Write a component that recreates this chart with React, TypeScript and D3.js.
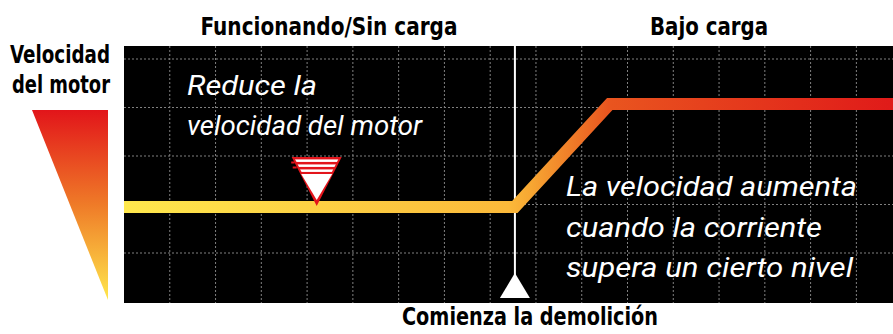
import * as d3 from "d3";

// grid positions (chart units)
const gridX = [1, 2, 3, 4, 5, 6, 7, 8, 9, 10, 11, 12, 13, 14, 15, 16];
const gridY = [0, 1, 2, 3, 4];

// motor speed curve
const speedX = [0, 8.54, 10.61, 16.8];
const speedY = [0.95, 0.95, 3.07, 3.07];

// events
const demolitionX = 8.54;
const reduceX = 4.21;

const phaseLabels = ["Funcionando/Sin carga", "Bajo carga"];
const phaseCenters = [329, 709];
const phaseWidths = [257, 118];
const reduceText = ["Reduce la", "velocidad del motor"];
const reduceWidths = [130, 235];
const increaseText = ["La velocidad aumenta", "cuando la corriente", "supera un cierto nivel"];
const increaseWidths = [291, 256, 287];

const W = 893;
const H = 334;
const FONT = "'Liberation Sans Narrow', 'DejaVu Sans Condensed', 'Roboto', sans-serif";
const ITALIC = "'Roboto', 'Liberation Sans', sans-serif";

export default function App() {
  const panel = { left: 124, right: 893, top: 46, bottom: 303 };
  const x = d3.scaleLinear().domain([0, 16.8]).range([panel.left, panel.right]);
  const y = d3.scaleLinear().domain([0, 4]).range([253, 59]);

  const pts: [number, number][] = speedX.map((v, i) => [x(v), y(speedY[i])]);
  const line = d3.line()(pts) || "";

  const mx = x(reduceX);
  const my = y(speedY[0]) - 1;
  const dx = x(demolitionX);

  return (
    <svg width={W} height={H} style={{ position: "absolute", left: 0, top: 0 }} fontFamily={FONT}>
      <defs>
        <linearGradient id="lineGrad" gradientUnits="userSpaceOnUse" x1={panel.left} x2={panel.right} y1={0} y2={0}>
          <stop offset="0" stopColor="#ffe84d" />
          <stop offset="0.5" stopColor="#fbb93a" />
          <stop offset="0.53" stopColor="#f7a632" />
          <stop offset="0.63" stopColor="#e9551f" />
          <stop offset="1" stopColor="#e01a19" />
        </linearGradient>
        <linearGradient id="triGrad" x1="0" x2="0" y1="0" y2="1">
          <stop offset="0" stopColor="#e2151a" />
          <stop offset="0.5" stopColor="#ef7b28" />
          <stop offset="1" stopColor="#ffe74c" />
        </linearGradient>
        <clipPath id="markClip">
          <path d="M-22,-47.5L22,-47.5L0,-4Z" />
        </clipPath>
      </defs>

      {/* left legend */}
      <text x={60} y={63} textAnchor="middle" fontWeight="bold" fontSize={25} textLength={100} lengthAdjust="spacingAndGlyphs">Velocidad</text>
      <text x={61} y={93} textAnchor="middle" fontWeight="bold" fontSize={25} textLength={98} lengthAdjust="spacingAndGlyphs">del motor</text>
      <path d="M32,110L108,110L108,300Z" fill="url(#triGrad)" />

      {/* phase headers */}
      {phaseLabels.map((t, i) => (
        <text key={t} x={phaseCenters[i]} y={35} textAnchor="middle" fontWeight="bold" fontSize={25}
          textLength={phaseWidths[i]} lengthAdjust="spacingAndGlyphs">{t}</text>
      ))}

      {/* panel */}
      <rect x={panel.left} y={panel.top} width={panel.right - panel.left} height={panel.bottom - panel.top} fill="#000" />
      <g stroke="#808080" strokeWidth={1} strokeDasharray="2,2">
        {gridX.map((g) => (
          <line key={"x" + g} x1={x(g)} x2={x(g)} y1={panel.top} y2={panel.bottom} />
        ))}
        {gridY.map((g) => (
          <line key={"y" + g} x1={panel.left} x2={panel.right} y1={y(g)} y2={y(g)} />
        ))}
      </g>

      {/* demolition marker */}
      <line x1={dx} x2={dx} y1={panel.top} y2={280} stroke="#fff" strokeWidth={2} />
      <path d={`M${dx},273L${dx + 15},298L${dx - 15},298Z`} fill="#fff" />

      {/* speed curve */}
      <path d={line} fill="none" stroke="url(#lineGrad)" strokeWidth={12} strokeLinejoin="miter" />

      {/* reduce marker */}
      <g transform={`translate(${mx},${my})`}>
        <path d="M-25,-49L25,-49L0,0Z" fill="#e3141b" />
        <path d="M-25.5,-44.5L-22,-44.5L-22,-42.5L-25.5,-42.5Z M-24,-39.5L-20,-39.5L-20,-37.5L-24,-37.5Z" fill="#e3141b" />
        <g clipPath="url(#markClip)" fill="#fff">
          <rect x={-25} y={-46.5} width={50} height={2.5} />
          <rect x={-25} y={-41.5} width={50} height={2.5} />
          <rect x={-25} y={-36.5} width={50} height={2.5} />
        </g>
        <path d="M-15.5,-32L15.5,-32L0,-6Z" fill="#fff" />
      </g>

      {/* annotations */}
      <g fill="#fff" fontStyle="italic" fontSize={27} fontFamily={ITALIC}>
        {reduceText.map((t, i) => (
          <text key={t} x={187} y={95 + i * 40} textLength={reduceWidths[i]} lengthAdjust="spacingAndGlyphs">{t}</text>
        ))}
        {increaseText.map((t, i) => (
          <text key={t} x={566} y={196 + i * 40.5} textLength={increaseWidths[i]} lengthAdjust="spacingAndGlyphs">{t}</text>
        ))}
      </g>

      <text x={530} y={325} textAnchor="middle" fontWeight="bold" fontSize={25} textLength={256} lengthAdjust="spacingAndGlyphs">Comienza la demolición</text>
    </svg>
  );
}
